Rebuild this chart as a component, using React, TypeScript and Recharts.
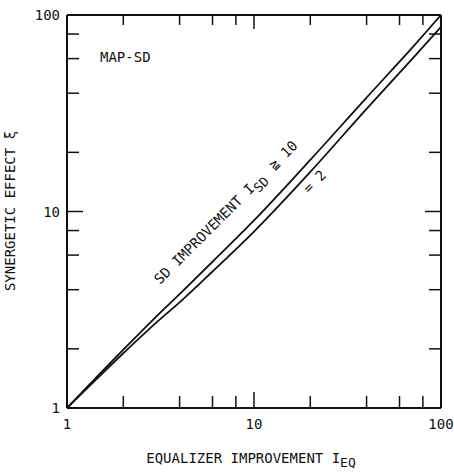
import { LineChart, Line, XAxis, YAxis, Customized } from "recharts"

// equalizer improvement I_EQ and the synergetic effect for two SD improvements
const improvementEq = [1, 2, 3, 4, 6, 10, 20, 40, 70, 100]
const effectSdHigh = [1, 1.98, 2.92, 3.8, 5.55, 9.0, 18.3, 38, 68, 100]
const effectSdTwo = [1, 1.9, 2.72, 3.45, 4.95, 7.9, 15.9, 33.3, 59.6, 87]

const logTicks = [1, 2, 4, 6, 8, 10, 20, 40, 60, 80, 100]
const labelledTicks = [1, 10, 100]

const data = improvementEq.map((x, i) => ({
  x,
  high: effectSdHigh[i],
  two: effectSdTwo[i]
}))

const FONT = "'DejaVu Sans Mono', 'Liberation Mono', monospace"
const INK = "#111"

const tickLen = (v: number) => (v === 10 ? 16 : 12)
const inner = (v: number) => v > 1 && v < 100

function BottomTick({ x, y, payload }: any) {
  const v = payload.value
  return (
    <g>
      {inner(v) && <line x1={x} y1={y} x2={x} y2={y - tickLen(v)} stroke={INK} strokeWidth={1.5} />}
      {labelledTicks.includes(v) && (
        <text x={x} y={y + 21} textAnchor="middle" fontFamily={FONT} fontSize={14} fill={INK}>
          {v}
        </text>
      )}
    </g>
  )
}

function TopTick({ x, y, payload }: any) {
  const v = payload.value
  if (!inner(v)) return <g />
  return <line x1={x} y1={y} x2={x} y2={y + tickLen(v) - 2} stroke={INK} strokeWidth={1.5} />
}

function LeftTick({ x, y, payload }: any) {
  const v = payload.value
  return (
    <g>
      {inner(v) && <line x1={x} y1={y} x2={x + tickLen(v)} y2={y} stroke={INK} strokeWidth={1.5} />}
      {labelledTicks.includes(v) && (
        <text x={x - 7} y={y + 5} textAnchor="end" fontFamily={FONT} fontSize={14} fill={INK}>
          {v}
        </text>
      )}
    </g>
  )
}

function RightTick({ x, y, payload }: any) {
  const v = payload.value
  if (!inner(v)) return <g />
  return <line x1={x} y1={y} x2={x - tickLen(v)} y2={y} stroke={INK} strokeWidth={1.5} />
}

function Annotations() {
  return (
    <g fontFamily={FONT} fill={INK} style={{ whiteSpace: "pre" }}>
      <text x={100} y={62} fontSize={14}>MAP-SD</text>
      <text transform="translate(160,285) rotate(-45)" fontSize={14}>
        SD IMPROVEMENT  I
        <tspan dy={5} fontSize={13}>SD</tspan>
        <tspan dy={-5} dx={3}>{"  ≧  10"}</tspan>
      </text>
      <text transform="translate(309,194) rotate(-45)" fontSize={14}>= 2</text>
      <text x={251} y={463} textAnchor="middle" fontSize={14}>
        EQUALIZER IMPROVEMENT I
        <tspan dy={4} fontSize={13}>EQ</tspan>
      </text>
      <text transform="translate(15,211) rotate(-90)" textAnchor="middle" fontSize={14}>
        SYNERGETIC EFFECT ξ
      </text>
    </g>
  )
}

export default function App() {
  return (
    <div style={{ position: "absolute", left: 0, top: 0, background: "#fff" }}>
      <LineChart width={454} height={475} data={data} margin={{ top: 14, right: 12, bottom: 0, left: 0 }}>
        <XAxis
          xAxisId="b"
          dataKey="x"
          type="number"
          scale="log"
          domain={[1, 100]}
          ticks={logTicks}
          height={67}
          tickSize={0}
          tickMargin={0}
          tickLine={false}
          axisLine={{ stroke: INK, strokeWidth: 2 }}
          tick={<BottomTick />}
          interval={0}
          allowDataOverflow
        />
        <XAxis
          xAxisId="t"
          orientation="top"
          dataKey="x"
          type="number"
          scale="log"
          domain={[1, 100]}
          ticks={logTicks}
          height={1}
          tickSize={0}
          tickMargin={0}
          tickLine={false}
          axisLine={{ stroke: INK, strokeWidth: 2 }}
          tick={<TopTick />}
          interval={0}
          allowDataOverflow
        />
        <YAxis
          yAxisId="l"
          type="number"
          scale="log"
          domain={[1, 100]}
          ticks={logTicks}
          width={67}
          tickSize={0}
          tickMargin={0}
          tickLine={false}
          axisLine={{ stroke: INK, strokeWidth: 2 }}
          tick={<LeftTick />}
          interval={0}
          allowDataOverflow
        />
        <YAxis
          yAxisId="r"
          orientation="right"
          type="number"
          scale="log"
          domain={[1, 100]}
          ticks={logTicks}
          width={1}
          tickSize={0}
          tickMargin={0}
          tickLine={false}
          axisLine={{ stroke: INK, strokeWidth: 2 }}
          tick={<RightTick />}
          interval={0}
          allowDataOverflow
        />
        <Line
          xAxisId="b"
          yAxisId="l"
          dataKey="high"
          type="monotone"
          stroke={INK}
          strokeWidth={1.8}
          dot={false}
          isAnimationActive={false}
        />
        <Line
          xAxisId="b"
          yAxisId="l"
          dataKey="two"
          type="monotone"
          stroke={INK}
          strokeWidth={1.8}
          dot={false}
          isAnimationActive={false}
        />
        <Customized component={Annotations} />
      </LineChart>
    </div>
  )
}
